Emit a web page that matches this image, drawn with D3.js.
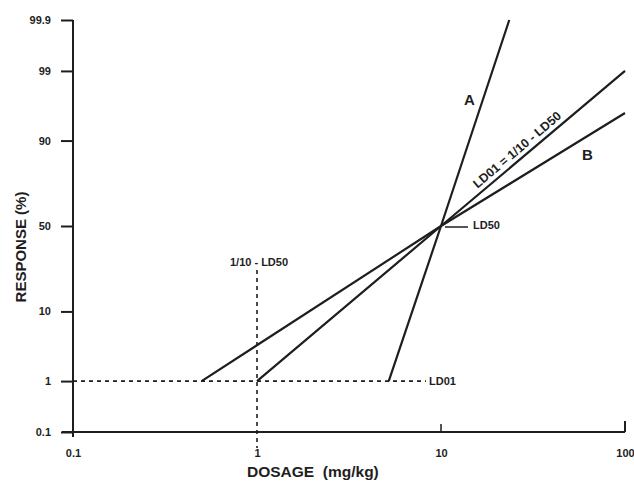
<!DOCTYPE html>
<html><head><meta charset="utf-8">
<script src="https://cdn.jsdelivr.net/npm/d3@7"></script>
<style>
html,body{margin:0;padding:0;background:#fff;}
svg text{font-family:"Liberation Sans",Arial,sans-serif;font-weight:bold;fill:#1e1e1e;}
</style></head>
<body><svg id="c" width="634" height="481"></svg>
<script>
// ---- data ----
const xTicks = [0.1, 1, 10, 100];
const xTickLabels = ["0.1", "1", "10", "100"];
const yTicks = [0.1, 1, 10, 50, 90, 99, 99.9];
const yTickLabels = ["0.1", "1", "10", "50", "90", "99", "99.9"];
const lineADose = [5.2, 10, 23.5];
const lineAResp = [1, 50, 99.9];
const lineMidDose = [1, 10, 100];
const lineMidResp = [1, 50, 99];
const lineBDose = [0.5, 10, 100];
const lineBResp = [1, 50, 95.5];
const ld01Resp = 1;       // response level of LD01 (dashed horizontal)
const ld01Dose = 1;       // 1/10 of LD50 (dashed vertical)
const ld50Dose = 10, ld50Resp = 50;

// probit (inverse normal CDF, Acklam)
function probit(p){
  const a=[-39.69683028665376,220.9460984245205,-275.9285104469687,138.3577518672690,-30.66479806614716,2.506628277459239];
  const b=[-54.47609879822406,161.5858368580409,-155.6989798598866,66.80131188771972,-13.28068155288572];
  const c=[-0.007784894002430293,-0.3223964580411365,-2.400758277161838,-2.549732539343734,4.374664141464968,2.938163982698783];
  const d=[0.007784695709041462,0.3224671290700398,2.445134137142996,3.754408661907416];
  const pl=0.02425;
  let q,r;
  if(p<pl){q=Math.sqrt(-2*Math.log(p));return (((((c[0]*q+c[1])*q+c[2])*q+c[3])*q+c[4])*q+c[5])/((((d[0]*q+d[1])*q+d[2])*q+d[3])*q+1);}
  if(p>1-pl){q=Math.sqrt(-2*Math.log(1-p));return -(((((c[0]*q+c[1])*q+c[2])*q+c[3])*q+c[4])*q+c[5])/((((d[0]*q+d[1])*q+d[2])*q+d[3])*q+1);}
  q=p-0.5;r=q*q;
  return (((((a[0]*r+a[1])*r+a[2])*r+a[3])*r+a[4])*r+a[5])*q/(((((b[0]*r+b[1])*r+b[2])*r+b[3])*r+b[4])*r+1);
}

const svg = d3.select("#c");
const ink = "#1e1e1e";
const x = d3.scaleLog().domain([0.1, 100]).range([73, 625]);
const yz = d3.scaleLinear().domain([probit(0.001), probit(0.999)]).range([432, 20]);
const y = v => yz(probit(v/100));

// y axis
const yAxis = d3.axisLeft(yz).tickValues(yTicks.map(v=>probit(v/100)))
  .tickFormat((d,i)=>yTickLabels[i]).tickSizeInner(12).tickSizeOuter(0).tickPadding(10);
const gy = svg.append("g").attr("transform","translate(73,0)").call(yAxis);
gy.select(".domain").remove();
gy.selectAll(".tick line").attr("stroke",ink).attr("stroke-width",2);
gy.selectAll(".tick text").style("font-size","11px").attr("fill",ink).attr("x",-22);
svg.append("line").attr("x1",73).attr("x2",73).attr("y1",y(99.9)).attr("y2",437)
  .attr("stroke",ink).attr("stroke-width",2);

// x axis
const xAxis = d3.axisBottom(x).tickValues(xTicks).tickFormat((d,i)=>xTickLabels[i])
  .tickSize(0).tickPadding(17);
const gx = svg.append("g").attr("transform","translate(0,432)").call(xAxis);
gx.select(".domain").remove();
gx.selectAll(".tick text").style("font-size","11px").attr("fill",ink);
svg.append("line").attr("x1",62).attr("x2",x(100)).attr("y1",432).attr("y2",432)
  .attr("stroke",ink).attr("stroke-width",2);
[10,100].forEach(v=>{
  svg.append("line").attr("x1",x(v)).attr("x2",x(v)).attr("y1",432).attr("y2",v===100?421:424)
    .attr("stroke",ink).attr("stroke-width",v===100?2:1.5);
});

// axis titles
svg.append("text").attr("x",247).attr("y",477).style("font-size","15.5px")
  .style("white-space","pre").text("DOSAGE  (mg/kg)");
svg.append("text").attr("transform","translate(26,247) rotate(-90)").attr("text-anchor","middle")
  .style("font-size","15px").text("RESPONSE (%)");

// dashed reference lines
svg.append("line").attr("x1",x(0.1)).attr("x2",426).attr("y1",y(ld01Resp)).attr("y2",y(ld01Resp))
  .attr("stroke",ink).attr("stroke-width",1.6).attr("stroke-dasharray","4,4");
svg.append("line").attr("x1",x(ld01Dose)).attr("x2",x(ld01Dose)).attr("y1",270).attr("y2",448)
  .attr("stroke",ink).attr("stroke-width",1.6).attr("stroke-dasharray","4,4");

// main lines
const line = d3.line().x(d=>x(d[0])).y(d=>y(d[1]));
[[lineADose,lineAResp],[lineMidDose,lineMidResp],[lineBDose,lineBResp]].forEach(([ds,rs])=>{
  svg.append("path").datum(ds.map((d,i)=>[d,rs[i]])).attr("d",line)
    .attr("fill","none").attr("stroke",ink).attr("stroke-width",2.2);
});

// labels
svg.append("text").attr("x",429).attr("y",y(ld01Resp)+4).style("font-size","11px").text("LD01");
svg.append("text").attr("x",x(ld01Dose)+2).attr("y",266).attr("text-anchor","middle")
  .style("font-size","11px").text("1/10 - LD50");
svg.append("line").attr("x1",x(ld50Dose)+4).attr("x2",x(ld50Dose)+27)
  .attr("y1",y(ld50Resp)+1).attr("y2",y(ld50Resp)+1).attr("stroke",ink).attr("stroke-width",1.5);
svg.append("text").attr("x",x(ld50Dose)+32).attr("y",y(ld50Resp)+3).style("font-size","11px").text("LD50");
svg.append("text").attr("x",464).attr("y",105).style("font-size","15px").text("A");
svg.append("text").attr("x",582).attr("y",160).style("font-size","15px").text("B");

// rotated label along middle line
const p0=[x(lineMidDose[0]),y(lineMidResp[0])], p1=[x(lineMidDose[2]),y(lineMidResp[2])];
const ang = Math.atan2(p1[1]-p0[1], p1[0]-p0[0])*180/Math.PI;
const lx = 523, ly = p0[1] + (lx-p0[0])*(p1[1]-p0[1])/(p1[0]-p0[0]);
svg.append("text").attr("transform",`translate(${lx},${ly}) rotate(${ang}) translate(0,-5)`)
  .attr("text-anchor","middle").style("font-size","12.5px").text("LD01 = 1/10 - LD50");
</script></body></html>
